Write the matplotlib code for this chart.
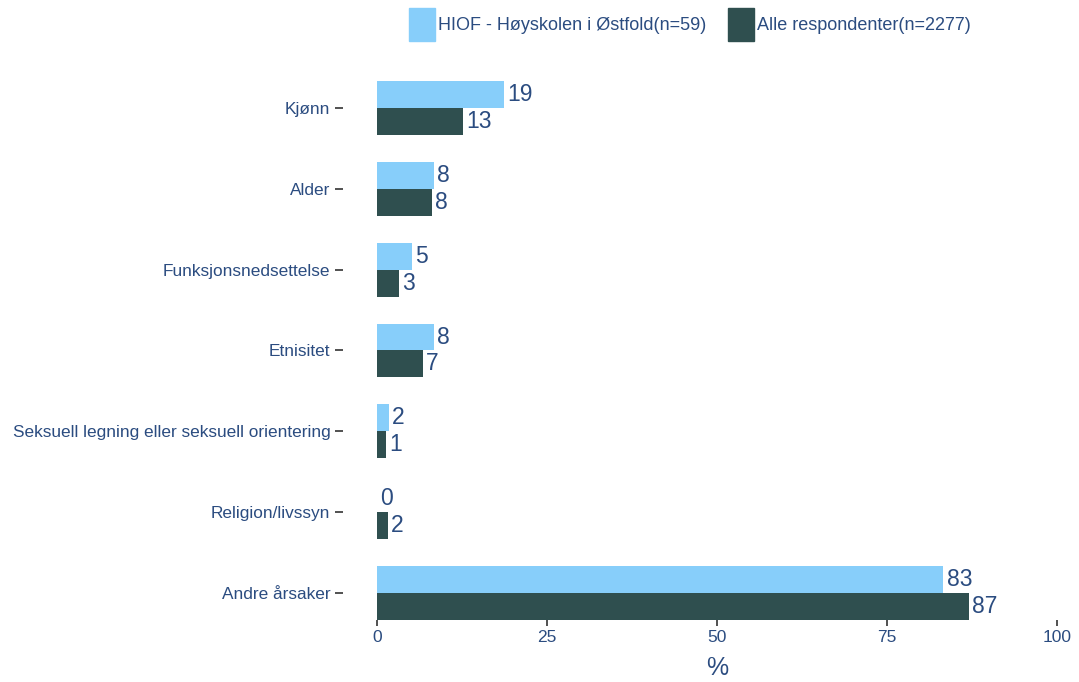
import matplotlib.pyplot as plt
from matplotlib.patches import Patch
import numpy as np

plt.rcParams['font.family'] = ['Liberation Sans', 'DejaVu Sans']

categories = ["Kjønn", "Alder", "Funksjonsnedsettelse", "Etnisitet",
              "Seksuell legning eller seksuell orientering", "Religion/livssyn",
              "Andre årsaker"]
hiof = [18.7, 8.4, 5.1, 8.4, 1.7, 0, 83.3]
alle = [12.7, 8.1, 3.2, 6.8, 1.3, 1.6, 87.0]
series_names = ["HIOF - Høyskolen i Østfold(n=59)", "Alle respondenter(n=2277)"]

light = "#87CEFA"
dark = "#2F4F4F"
txt = "#2B4C80"

W, H = 1079, 682
fig = plt.figure(figsize=(W / 100, H / 100), dpi=100)
ax = fig.add_axes([343 / W, 1 - 620 / H, (1091 - 343) / W, (620 - 67.5) / H])

y = np.arange(len(categories))[::-1]
bh = 1 / 3
ax.barh(y + bh / 2, hiof, height=bh, color=light)
ax.barh(y - bh / 2, alle, height=bh, color=dark)

for yy, v in zip(y, hiof):
    ax.text(v + 0.45, yy + bh / 2, str(int(round(v))), va="center", ha="left",
            fontsize=16.5, color=txt)
for yy, v in zip(y, alle):
    ax.text(v + 0.45, yy - bh / 2, str(int(round(v))), va="center", ha="left",
            fontsize=16.5, color=txt)

ax.set_xlim(-5, 105)
ax.set_ylim(-bh, 6.5)
ax.set_xticks([0, 25, 50, 75, 100])
ax.set_yticks(y)
ax.set_yticklabels(categories)
ax.tick_params(axis="y", length=6, width=1.2, color="#333333", labelsize=12.4,
               labelcolor=txt, pad=3)
ax.tick_params(axis="x", length=4, width=1.2, color="#333333", labelsize=12.5,
               labelcolor=txt, pad=3)
ax.set_xlabel("%", fontsize=18, color=txt, labelpad=8)
for s in ax.spines.values():
    s.set_visible(False)

handles = [Patch(color=light), Patch(color=dark)]
fig.legend(handles, series_names, loc="upper center", ncol=2,
           bbox_to_anchor=(690 / W, 1.012), frameon=False, fontsize=13,
           handlelength=1.45, handleheight=2.4, handletextpad=0.15,
           columnspacing=1.2, labelcolor=txt)

fig.savefig("out.png", dpi=100)
